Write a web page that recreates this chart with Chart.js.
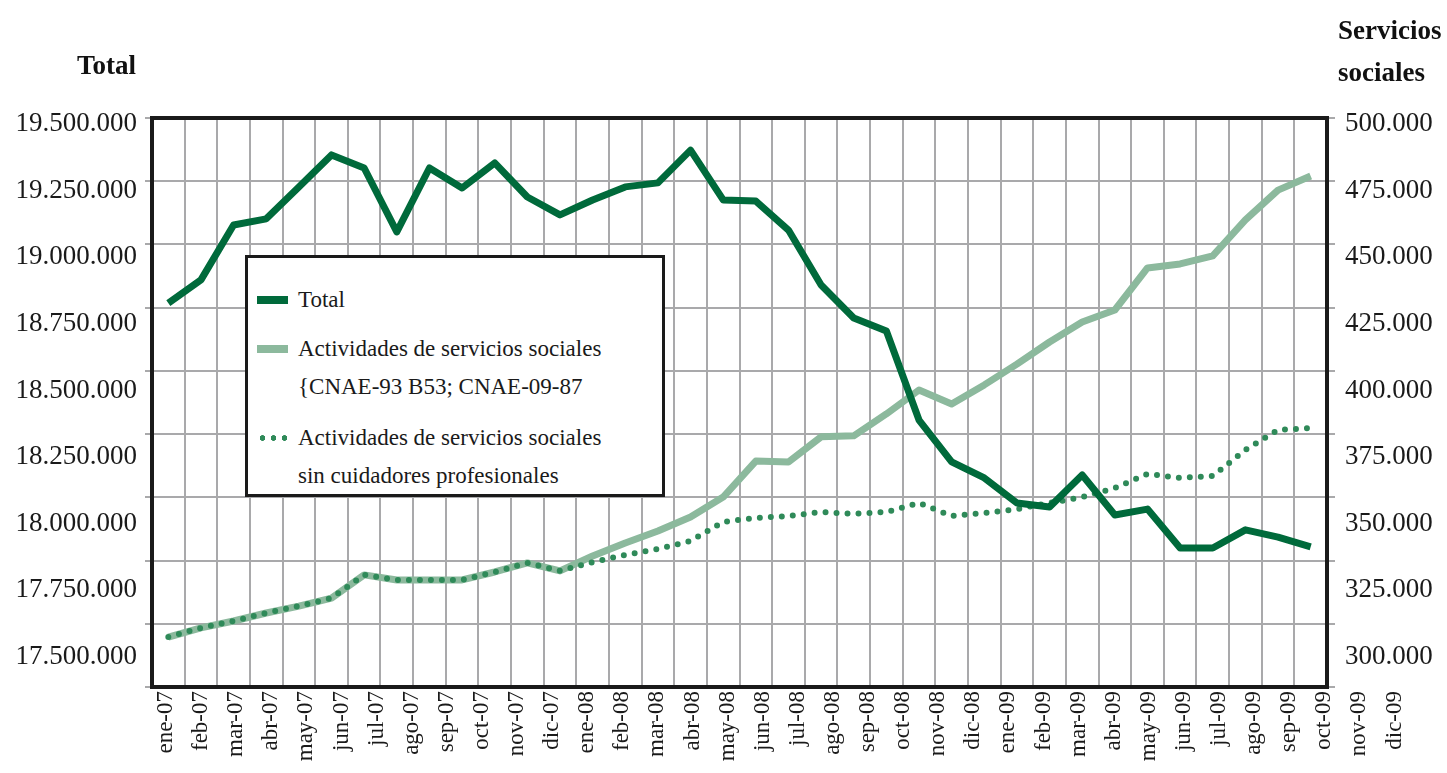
<!DOCTYPE html>
<html>
<head>
<meta charset="utf-8">
<script src="https://cdn.jsdelivr.net/npm/chart.js@4.4.1/dist/chart.umd.min.js"></script>
<style>
  body { margin: 0; background: #fff; font-family: "Liberation Serif", serif; }
  #wrap { position: relative; width: 1447px; height: 773px; }
  .axisTitle { position: absolute; font-weight: bold; font-size: 27px; color: #111; line-height: 42px; }
  #legend { position: absolute; left: 245px; top: 255px; width: 414px; height: 236px;
            border: 3px solid #1a1a1a; background: #fff; }
  .lgRow { position: absolute; left: 0; font-size: 23px; color: #1a1a1a; white-space: nowrap; }
  .lgText { position: absolute; left: 50px; line-height: 38px; }
  .swatch { position: absolute; left: 9px; width: 31px; }
</style>
</head>
<body>
<div id="wrap">
  <canvas id="chart" width="1447" height="773"></canvas>
  <div class="axisTitle" style="left:0; width:136px; top:44px; text-align:right;">Total</div>
  <div class="axisTitle" style="left:1338px; top:9px;">Servicios<br>sociales</div>
  <div id="legend"></div>
</div>
<script>
const months = ['ene-07', 'feb-07', 'mar-07', 'abr-07', 'may-07', 'jun-07', 'jul-07', 'ago-07', 'sep-07', 'oct-07', 'nov-07', 'dic-07',
                'ene-08', 'feb-08', 'mar-08', 'abr-08', 'may-08', 'jun-08', 'jul-08', 'ago-08', 'sep-08', 'oct-08', 'nov-08', 'dic-08',
                'ene-09', 'feb-09', 'mar-09', 'abr-09', 'may-09', 'jun-09', 'jul-09', 'ago-09', 'sep-09', 'oct-09', 'nov-09', 'dic-09'];

const leftTicks = [17500000, 17750000, 18000000, 18250000, 18500000, 18750000, 19000000, 19250000, 19500000];
const rightTicks = [300000, 325000, 350000, 375000, 400000, 425000, 450000, 475000, 500000];

// Total (left axis)
const totalValues = [18828000, 18915000, 19121000, 19144000, 19264000, 19384000, 19335000, 19095000, 19335000, 19260000, 19354000, 19226000,
                     19159000, 19215000, 19264000, 19279000, 19402000, 19215000, 19211000, 19102000, 18896000, 18772000, 18723000, 18389000,
                     18232000, 18172000, 18078000, 18063000, 18183000, 18033000, 18055000, 17909000, 17909000, 17977000, 17950000, 17913000];

// Actividades de servicios sociales (right axis)
const socialesValues = [307500, 310900, 313500, 316500, 319100, 322100, 330800, 328900, 328900, 328900, 331900, 335300,
                        332300, 337900, 342800, 347300, 352500, 360000, 373500, 373200, 382600, 383000, 391200, 400200,
                        394900, 402100, 409900, 418200, 425700, 430200, 446000, 447500, 450500, 464000, 475200, 480500];

// sin cuidadores profesionales (right axis)
const sinCuidadoresValues = [307500, 310900, 313500, 316500, 319100, 322100, 330800, 328900, 328900, 328900, 331900, 335300,
                             332300, 335600, 338300, 340500, 343500, 350700, 352200, 352900, 354400, 353700, 354400, 357800,
                             352900, 354000, 355500, 357800, 360000, 363400, 368700, 367200, 367900, 377700, 385200, 385900];

const totalLabel = 'Total';
const socialesLabel = ['Actividades de servicios sociales', '{CNAE-93 B53; CNAE-09-87'];
const sinCuidadoresLabel = ['Actividades de servicios sociales', 'sin cuidadores profesionales'];

function fmt(v) {
    return String(Math.round(v)).replace(/\B(?=(\d{3})+(?!\d))/g, '.');
}

const gridColor = '#a9a9ab';
const serif = '"Liberation Serif", "DejaVu Serif", serif';

// plot frame
const framePlugin = {
    id: 'frame',
    afterDraw(chart) {
        const a = chart.chartArea, ctx = chart.ctx;
        ctx.save();
        ctx.strokeStyle = '#1a1a1a';
        ctx.lineWidth = 4;
        ctx.strokeRect(a.left, a.top, a.right - a.left, a.bottom - a.top);
        ctx.restore();
    }
};

const ctx = document.getElementById('chart').getContext('2d');
const chart = new Chart(ctx, {
    type: 'line',
    data: {
        labels: months,
        datasets: [{
            label: totalLabel,
            data: totalValues,
            yAxisID: 'yL',
            borderColor: '#006a3b',
            borderWidth: 7,
            pointRadius: 0,
            tension: 0,
            borderJoinStyle: 'round',
            order: 0
        }, {
            label: socialesLabel,
            data: socialesValues,
            yAxisID: 'yR',
            borderColor: '#8cb99d',
            borderWidth: 7,
            pointRadius: 0,
            tension: 0,
            borderJoinStyle: 'round',
            order: 2
        }, {
            label: sinCuidadoresLabel,
            data: sinCuidadoresValues,
            yAxisID: 'yR',
            borderColor: '#2f8a59',
            borderWidth: 6,
            borderDash: [0, 11],
            borderCapStyle: 'round',
            pointRadius: 0,
            tension: 0,
            order: 1
        }]
    },
    options: {
        responsive: false,
        animation: false,
        layout: { padding: { top: 118, left: 0, right: 0, bottom: 0 } },
        plugins: { legend: { display: false }, tooltip: { enabled: false } },
        scales: {
            x: {
                type: 'category',
                position: 'bottom',
                weight: 0,
                offset: true,
                grid: { color: gridColor, lineWidth: 2, offset: true, drawTicks: false },
                border: { display: false },
                ticks: { display: false },
                afterFit: (axis) => { axis.height = 0; }
            },
            xLab: {
                type: 'linear',
                position: 'bottom',
                weight: 1,
                min: -0.399,
                max: 33.077,
                grid: { display: false, drawTicks: false },
                border: { display: false },
                afterBuildTicks: (axis) => { axis.ticks = months.map((m, i) => ({ value: i })); },
                ticks: {
                    autoSkip: false,
                    minRotation: 90,
                    maxRotation: 90,
                    padding: 4,
                    color: '#1a1a1a',
                    font: { family: serif, size: 23 },
                    callback: (v) => months[v]
                },
                afterFit: (axis) => { axis.height = 86; }
            },
            yL: {
                type: 'linear',
                position: 'left',
                weight: 1,
                min: 17387400,
                max: 19522500,
                grid: { display: false, drawTicks: false },
                border: { display: false },
                afterBuildTicks: (axis) => { axis.ticks = leftTicks.map(v => ({ value: v })); },
                ticks: {
                    padding: 15,
                    color: '#1a1a1a',
                    font: { family: serif, size: 27 },
                    callback: (v) => fmt(v)
                },
                afterFit: (axis) => { axis.width = 152; }
            },
            yGrid: {
                type: 'linear',
                position: 'left',
                weight: 0,
                min: 0,
                max: 9,
                grid: { color: gridColor, lineWidth: 2, tickLength: 7 },
                border: { display: false },
                ticks: { display: false, stepSize: 1 },
                afterFit: (axis) => { axis.width = 0; }
            },
            yR: {
                type: 'linear',
                position: 'right',
                weight: 1,
                min: 288740,
                max: 502250,
                grid: { display: false, drawTicks: false },
                border: { display: false },
                afterBuildTicks: (axis) => { axis.ticks = rightTicks.map(v => ({ value: v })); },
                ticks: {
                    padding: 18,
                    color: '#1a1a1a',
                    font: { family: serif, size: 27 },
                    callback: (v) => fmt(v)
                },
                afterFit: (axis) => { axis.width = 120; }
            },
            yGrid2: {
                type: 'linear',
                position: 'right',
                weight: 0,
                min: 0,
                max: 9,
                grid: { color: gridColor, lineWidth: 2, tickLength: 8, drawOnChartArea: false },
                border: { display: false },
                ticks: { display: false, stepSize: 1 },
                afterFit: (axis) => { axis.width = 0; }
            }
        }
    },
    plugins: [framePlugin]
});

// legend built from the datasets
const legend = document.getElementById('legend');
const rowTops = [23, 72, 161];
chart.data.datasets.forEach((ds, i) => {
    const lines = Array.isArray(ds.label) ? ds.label : [ds.label];
    const row = document.createElement('div');
    row.className = 'lgRow';
    row.style.top = rowTops[i] + 'px';
    const sw = document.createElement('div');
    sw.className = 'swatch';
    if (ds.borderDash) {
        sw.style.top = '16px';
        sw.style.height = '6px';
        sw.style.background = `radial-gradient(circle, ${ds.borderColor} 2.6px, transparent 3px) 0 0 / 11px 6px repeat-x`;
    } else {
        sw.style.top = '15px';
        sw.style.height = '8px';
        sw.style.background = ds.borderColor;
    }
    row.appendChild(sw);
    lines.forEach((t, k) => {
        const tx = document.createElement('div');
        tx.className = 'lgText';
        tx.style.top = (k * 38) + 'px';
        tx.textContent = t;
        row.appendChild(tx);
    });
    legend.appendChild(row);
});
</script>
</body>
</html>
